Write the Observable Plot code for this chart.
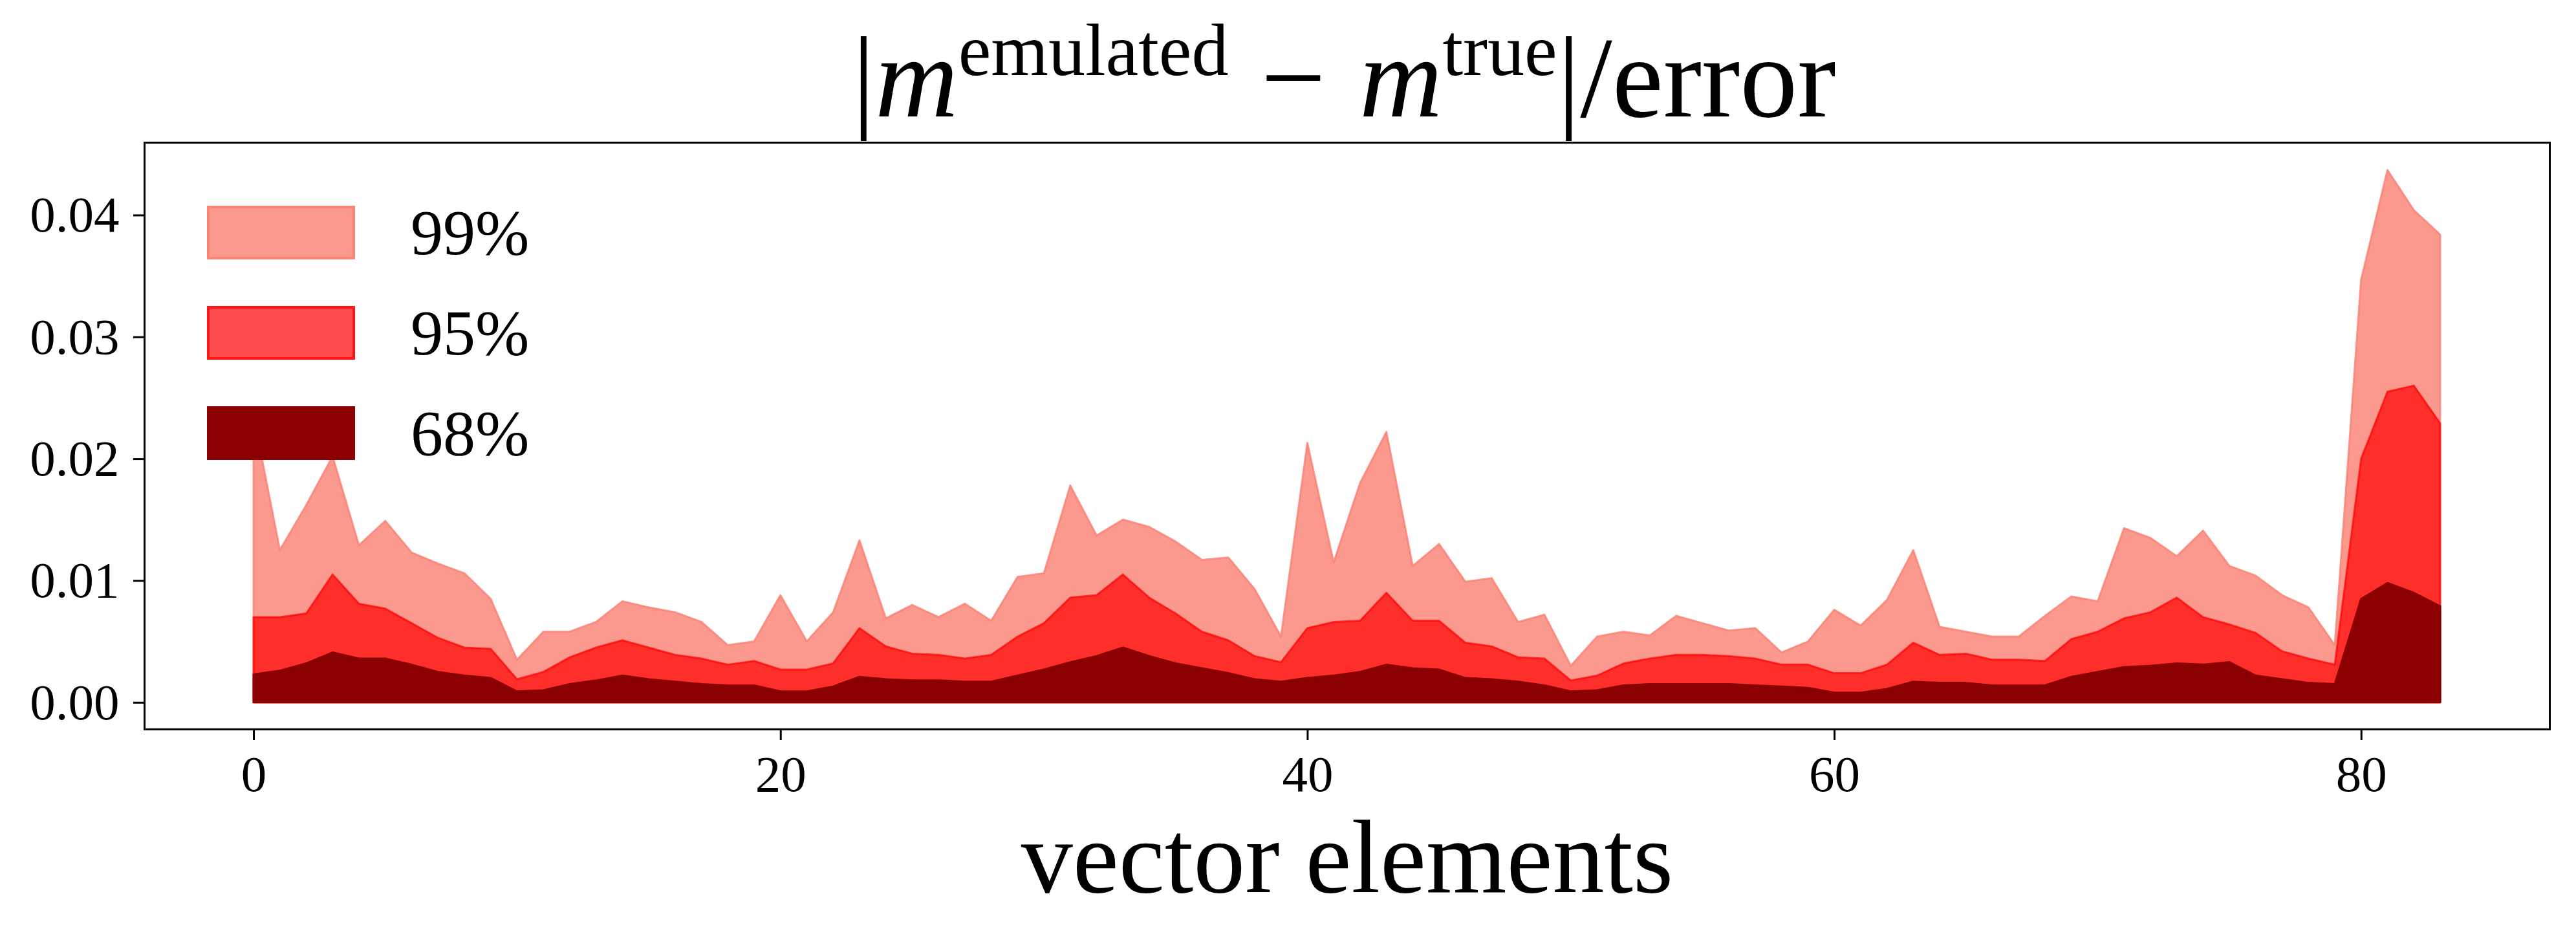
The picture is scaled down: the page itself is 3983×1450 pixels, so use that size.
<!DOCTYPE html>
<html>
<head>
<meta charset="utf-8">
<script src="https://cdn.jsdelivr.net/npm/d3@7"></script>
<script src="https://cdn.jsdelivr.net/npm/@observablehq/plot@0.6"></script>
<style>
  html, body { margin: 0; padding: 0; background: white; overflow: hidden; }
  #wrap { position: relative; width: 3983px; height: 1450px; font-family: 'Liberation Serif', serif; }
  #chart { position: absolute; left: 0; top: 0; }
  #title { position: absolute; left: 0; top: 0; }
  #legend { position: absolute; left: 320px; top: 318px; }
  .item { display: flex; align-items: center; height: 83px; margin-bottom: 72px; }
  .patch { width: 229px; height: 83px; box-sizing: border-box; border-width: 4px; border-style: solid; }
  .lab { margin-left: 86px; font-size: 100px; line-height: 83px; color: black; }
</style>
</head>
<body>
<div id="wrap">
  <div id="chart"></div>
  <svg id="title" width="3983" height="230">
    <text x="2078" y="180" text-anchor="middle" font-family="'Liberation Serif', serif" font-size="178" fill="black">|<tspan font-style="italic">m</tspan><tspan font-size="114" dy="-64">emulated</tspan><tspan dy="64" dx="50">−</tspan><tspan dx="52" font-style="italic">m</tspan><tspan font-size="114" dy="-64">true</tspan><tspan dy="64">|/error</tspan></text>
  </svg>
  <div id="legend"></div>
</div>
<script>
// vector element index
const elements = d3.range(84);

// 99% band upper values
const p99 = [
  0.0235, 0.0125, 0.0162, 0.0202, 0.0129, 0.0149, 0.0123, 0.0114, 0.0106, 0.0085,
  0.0035, 0.0058, 0.0058, 0.0066, 0.0083, 0.0078, 0.0074, 0.0066, 0.0047, 0.0050,
  0.0088, 0.0050, 0.0074, 0.0133, 0.0069, 0.0080, 0.0070, 0.0081, 0.0067, 0.0103,
  0.0106, 0.0178, 0.0137, 0.0150, 0.0144, 0.0132, 0.0117, 0.0119, 0.0093, 0.0054,
  0.0213, 0.0115, 0.0180, 0.0222, 0.0112, 0.0130, 0.0099, 0.0102, 0.0066, 0.0072,
  0.0030, 0.0054, 0.0058, 0.0055, 0.0071, 0.0065, 0.0059, 0.0061, 0.0041, 0.0050,
  0.0076, 0.0063, 0.0084, 0.0125, 0.0062, 0.0058, 0.0054, 0.0054, 0.0071, 0.0087,
  0.0083, 0.0143, 0.0135, 0.0120, 0.0141, 0.0112, 0.0104, 0.0088, 0.0078, 0.0047,
  0.0347, 0.0437, 0.0404, 0.0384
];

// 95% band upper values
const p95 = [
  0.0070, 0.0070, 0.0073, 0.0105, 0.0081, 0.0077, 0.0065, 0.0053, 0.0045, 0.0044,
  0.0019, 0.0025, 0.0037, 0.0045, 0.0051, 0.0045, 0.0039, 0.0036, 0.0031, 0.0034,
  0.0027, 0.0027, 0.0032, 0.0061, 0.0046, 0.0040, 0.0039, 0.0036, 0.0039, 0.0054,
  0.0065, 0.0086, 0.0088, 0.0105, 0.0086, 0.0073, 0.0058, 0.0051, 0.0038, 0.0033,
  0.0061, 0.0066, 0.0067, 0.0090, 0.0067, 0.0067, 0.0049, 0.0046, 0.0037, 0.0036,
  0.0018, 0.0022, 0.0032, 0.0036, 0.0039, 0.0039, 0.0038, 0.0036, 0.0031, 0.0031,
  0.0024, 0.0024, 0.0031, 0.0049, 0.0039, 0.0040, 0.0035, 0.0035, 0.0034, 0.0052,
  0.0058, 0.0069, 0.0074, 0.0086, 0.0070, 0.0064, 0.0057, 0.0042, 0.0036, 0.0031,
  0.0200, 0.0255, 0.0260, 0.0229
];

// 68% band upper values
const p68 = [
  0.0023, 0.0026, 0.0032, 0.0041, 0.0036, 0.0036, 0.0031, 0.0025, 0.0022, 0.0020,
  0.0009, 0.0010, 0.0015, 0.0018, 0.0022, 0.0019, 0.0017, 0.0015, 0.0014, 0.0014,
  0.0009, 0.0009, 0.0013, 0.0021, 0.0019, 0.0018, 0.0018, 0.0017, 0.0017, 0.0022,
  0.0027, 0.0033, 0.0038, 0.0045, 0.0038, 0.0032, 0.0028, 0.0024, 0.0019, 0.0017,
  0.0020, 0.0022, 0.0025, 0.0031, 0.0028, 0.0027, 0.0020, 0.0019, 0.0017, 0.0014,
  0.0009, 0.0010, 0.0014, 0.0015, 0.0015, 0.0015, 0.0015, 0.0014, 0.0013, 0.0012,
  0.0008, 0.0008, 0.0011, 0.0017, 0.0016, 0.0016, 0.0014, 0.0014, 0.0014, 0.0021,
  0.0025, 0.0029, 0.0030, 0.0032, 0.0031, 0.0033, 0.0022, 0.0019, 0.0016, 0.0015,
  0.0085, 0.0098, 0.0090, 0.0079
];

const xTicks = [0, 20, 40, 60, 80];
const yTicks = [0, 0.01, 0.02, 0.03, 0.04];
const bandLabels = ["99%", "95%", "68%"];
const bandColors = ["salmon", "red", "darkred"];
const bandOpacity = [0.8, 0.7, 1];

const rows = elements.map(i => ({i, p99: p99[i], p95: p95[i], p68: p68[i]}));
const keys = ["p99", "p95", "p68"];

const bands = keys.map((k, j) => Plot.areaY(rows, {
  x: "i", y1: 0, y2: k,
  fill: bandColors[j], fillOpacity: bandOpacity[j],
  stroke: bandColors[j], strokeOpacity: bandOpacity[j], strokeWidth: 3
}));

const chart = Plot.plot({
  width: 3983,
  height: 1450,
  marginTop: 220,
  marginBottom: 323,
  marginLeft: 223,
  marginRight: 41,
  style: {fontFamily: "'Liberation Serif', serif", background: "white", color: "black"},
  x: {domain: [-4.15, 87.15]},
  y: {domain: [-0.00219, 0.04597]},
  marks: [
    ...bands,
    Plot.frame({stroke: "black", strokeWidth: 3}),
    Plot.axisX({ticks: xTicks, tickSize: 17, tickPadding: 22, fontSize: 79, strokeWidth: 3, label: null, tickFormat: d => String(d)}),
    Plot.axisY({ticks: yTicks, tickSize: 17, tickPadding: 22, fontSize: 79, strokeWidth: 3, label: null, tickFormat: d => d.toFixed(2)}),
    Plot.text(["vector elements"], {frameAnchor: "bottom", dy: 251, lineAnchor: "bottom", fontSize: 160})
  ]
});
document.getElementById("chart").appendChild(chart);

// legend
const legend = document.getElementById("legend");
bandLabels.forEach((lab, j) => {
  const item = document.createElement("div");
  item.className = "item";
  const patch = document.createElement("div");
  patch.className = "patch";
  const c = d3.color(bandColors[j]);
  const cc = d3.rgb(c.r, c.g, c.b, bandOpacity[j]).toString();
  patch.style.background = cc;
  patch.style.borderColor = j === 2 ? "transparent" : cc;
  if (j === 2) { patch.style.borderWidth = "0px"; }
  const t = document.createElement("span");
  t.className = "lab";
  t.textContent = lab;
  item.appendChild(patch);
  item.appendChild(t);
  legend.appendChild(item);
});
</script>
</body>
</html>
